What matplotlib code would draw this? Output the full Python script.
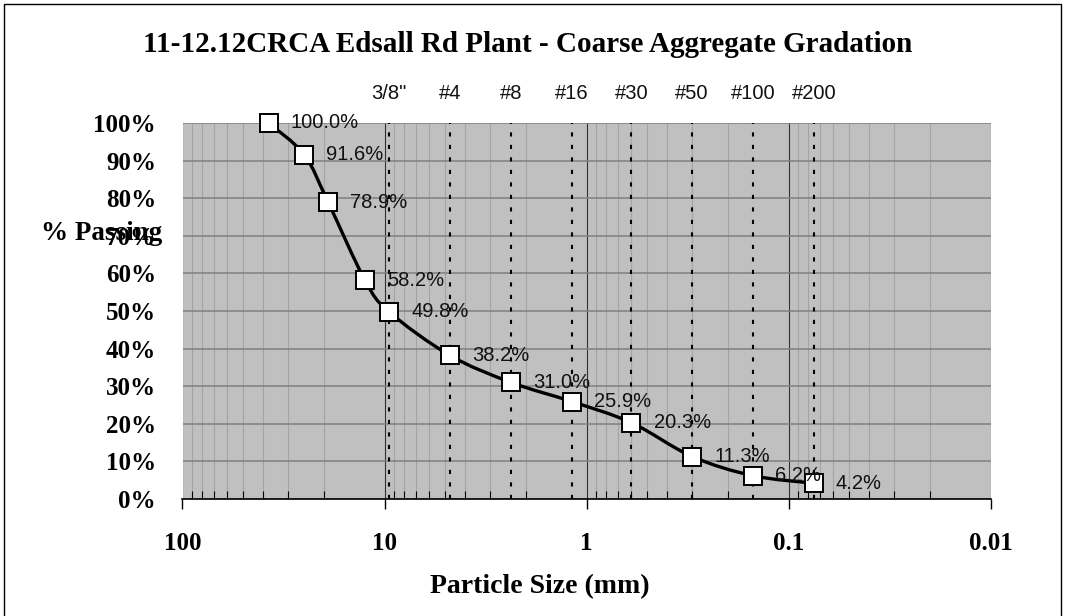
import numpy as np
import matplotlib
matplotlib.use("Agg")
import matplotlib.pyplot as plt
from matplotlib.path import Path
from matplotlib.patches import PathPatch, Rectangle
from matplotlib.ticker import FixedLocator, LogLocator, NullFormatter

# --- data ---
sizes_mm = [37.5, 25.0, 19.0, 12.5, 9.5, 4.75, 2.36, 1.18, 0.6, 0.3, 0.15, 0.075]
passing = [100.0, 91.6, 78.9, 58.2, 49.8, 38.2, 31.0, 25.9, 20.3, 11.3, 6.2, 4.2]

sieve_names = ['3/8"', '#4', '#8', '#16', '#30', '#50', '#100', '#200']
sieve_mm = [9.5, 4.75, 2.36, 1.18, 0.6, 0.3, 0.15, 0.075]

x_ticks = [100, 10, 1, 0.1, 0.01]
x_ticklabels = ['100', '10', '1', '0.1', '0.01']
y_ticks = list(range(0, 101, 10))

title = '11-12.12CRCA Edsall Rd Plant - Coarse Aggregate Gradation'

SERIF = 'Liberation Serif'
SANS = 'Liberation Sans'


def smooth_path(xs, ys):
    # Excel-like smoothed line: cubic Bezier segments (Catmull-Rom control
    # points) built in log-x space, drawn through the axes' own transform
    lx = np.log10(xs)
    y = np.asarray(ys, dtype=float)
    n = len(lx)
    verts = [(xs[0], ys[0])]
    codes = [Path.MOVETO]
    for i in range(n - 1):
        a = max(i - 1, 0)
        b = min(i + 2, n - 1)
        c1 = (lx[i] + (lx[i + 1] - lx[a]) / 6, y[i] + (y[i + 1] - y[a]) / 6)
        c2 = (lx[i + 1] - (lx[b] - lx[i]) / 6, y[i + 1] - (y[b] - y[i]) / 6)
        verts += [(10 ** c1[0], c1[1]), (10 ** c2[0], c2[1]), (xs[i + 1], ys[i + 1])]
        codes += [Path.CURVE4] * 3
    return Path(verts, codes)


W, H = 1065, 616
fig = plt.figure(figsize=(W / 100, H / 100), dpi=100)
fig.patch.set_facecolor('white')

left, right, top, bottom = 182.5, 990.5, 123, 499
ax = fig.add_axes([left / W, 1 - bottom / H, (right - left) / W, (bottom - top) / H])
ax.set_facecolor('#c0c0c0')

ax.set_xscale('log')
ax.set_xlim(100, 0.01)
ax.set_ylim(0, 100)

# grid
ax.xaxis.set_major_locator(FixedLocator(x_ticks))
ax.xaxis.set_minor_locator(LogLocator(base=10, subs=range(2, 10)))
ax.xaxis.set_minor_formatter(NullFormatter())
ax.set_xticklabels(x_ticklabels)
ax.set_yticks(y_ticks)
ax.set_yticklabels([f'{v}%' for v in y_ticks])
ax.grid(which='minor', axis='x', color='#a4a4a4', lw=0.8)
ax.grid(which='major', axis='x', color='#303030', lw=0.8)
ax.grid(which='major', axis='y', color='#808080', lw=1.1)
ax.set_axisbelow(True)

for s in ['left', 'top', 'right']:
    ax.spines[s].set_visible(False)
ax.spines['bottom'].set_color('black')
ax.spines['bottom'].set_linewidth(1.2)

ax.tick_params(axis='y', length=0, pad=19, labelsize=18)
ax.tick_params(axis='x', which='major', direction='out', length=7, width=1,
               pad=17, labelsize=18)
ax.tick_params(axis='x', which='minor', direction='in', length=6, width=0.8)
for lab in ax.get_xticklabels() + ax.get_yticklabels():
    lab.set_family(SERIF)
    lab.set_fontweight('bold')

# sieve reference lines and their names
for name, s in zip(sieve_names, sieve_mm):
    ax.plot([s, s], [0, 100], color='black', lw=1.5, dashes=(2, 4), zorder=2)
    ax.annotate(name, xy=(s, 1), xycoords=('data', 'axes fraction'),
                xytext=(0, 21), textcoords='offset points', ha='center',
                va='center', fontsize=14.5, family=SANS, color='#111111',
                annotation_clip=False)

# smoothed gradation curve + markers
ax.add_patch(PathPatch(smooth_path(sizes_mm, passing), fill=False,
                       edgecolor='black', lw=2.4, zorder=3))
ax.plot(sizes_mm, passing, linestyle='none', marker='s', markersize=13,
        markerfacecolor='white', markeredgecolor='black', markeredgewidth=1.4,
        zorder=4, clip_on=False)

for s, v in zip(sizes_mm, passing):
    ax.annotate(f'{v:.1f}%', xy=(s, v), xytext=(16, 0), textcoords='offset points',
                ha='left', va='center', fontsize=14.5, family=SANS,
                color='#111111', zorder=5, annotation_clip=False)

# titles
fig.text(527.5 / W, 1 - 44 / H, title, ha='center', va='center', fontsize=21,
         fontweight='bold', family=SERIF)
fig.text(540 / W, 1 - 587 / H, 'Particle Size (mm)', ha='center', va='center',
         fontsize=20, fontweight='bold', family=SERIF)
fig.text(101.5 / W, 1 - 233 / H, '% Passing', ha='center', va='center',
         fontsize=19.5, fontweight='bold', family=SERIF)

# chart area border
fig.patches.append(Rectangle((4 / W, -0.01), (W - 8) / W, 1 - 4 / H + 0.01,
                             transform=fig.transFigure, fill=False,
                             edgecolor='black', lw=1.0))

fig.savefig('out.png', dpi=100)
